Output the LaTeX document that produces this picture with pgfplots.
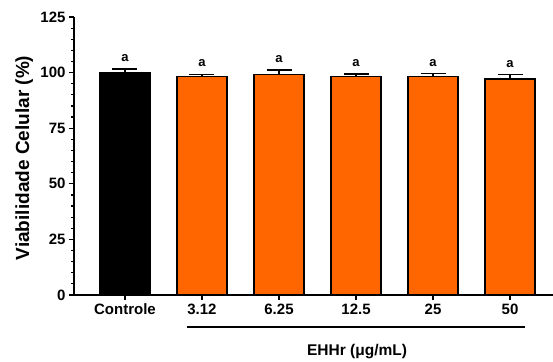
\documentclass[border=0pt]{standalone}
\usepackage{pgfplots}
\pgfplotsset{compat=1.18}
\usepackage{fontspec}
\setmainfont{Liberation Sans}
\definecolor{barorange}{HTML}{FF6600}
\begin{document}
\begin{tikzpicture}
\useasboundingbox (0pt,0pt) rectangle (553pt,361pt);
\begin{axis}[
  at={(74pt,66pt)}, anchor=south west,
  scale only axis, width=479pt, height=278pt,
  xmin=-0.662, xmax=5.558, ymin=0, ymax=125,
  axis x line*=bottom, axis y line*=left,
  axis line style={line width=1.4pt, -},
  ytick={0,25,...,125}, minor y tick num=4,
  xtick={0,...,5}, xticklabels={Controle,3.12,6.25,12.5,25,50},
  tick align=outside, major tick length=5pt, minor tick length=3pt,
  tick style={line width=1.2pt, black},
  /pgf/number format/assume math mode=true,
  ticklabel style={font=\fontsize{15}{18}\selectfont\bfseries},
  ylabel={Viabilidade Celular (\%)},
  ylabel style={font=\fontsize{19}{22}\selectfont\bfseries, at={(-0.104,0.493)}, anchor=center},
  xlabel={EHHr (μg/mL)},
  xlabel style={font=\fontsize{15.5}{18}\selectfont\bfseries, at={(0.591,-0.205)}, anchor=center},
  clip=false,
  error bars/error bar style={line width=1.3pt, black},
  error bars/error mark options={rotate=90, mark size=12.5pt, line width=1.3pt, black},
]
\addplot[ybar, bar width=0.65, bar shift=0pt, fill=black, draw=black, line width=1.2pt,
  error bars/.cd, y dir=plus, y explicit]
  coordinates {(0,100.0) +- (0,1.6)};
\addplot[ybar, bar width=0.65, bar shift=0pt, fill=barorange, draw=black, line width=1.2pt,
  error bars/.cd, y dir=plus, y explicit]
  coordinates {(1,98.3) +- (0,1.0) (2,99.3) +- (0,1.9) (3,98.3) +- (0,1.1) (4,98.2) +- (0,1.3) (5,97.1) +- (0,2.1)};
\addplot[draw=none, mark=none, nodes near coords={a},
  every node near coord/.append style={font=\fontsize{13}{15}\selectfont\bfseries, anchor=south, inner sep=0pt, yshift=7pt}]
  coordinates {(0,101.6) (1,99.3) (2,101.2) (3,99.4) (4,99.5) (5,99.2)};
\draw[line width=1.3pt] (axis cs:0.805,-14.4) -- (axis cs:5.19,-14.4);
\end{axis}
\end{tikzpicture}
\end{document}
